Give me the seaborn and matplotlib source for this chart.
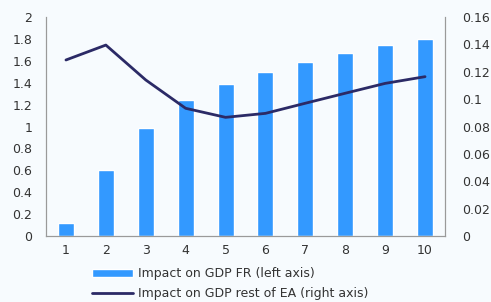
import matplotlib
matplotlib.use("Agg")
import matplotlib.pyplot as plt
import seaborn as sns
import pandas as pd

# ---------------- data ----------------
periods = [1, 2, 3, 4, 5, 6, 7, 8, 9, 10]
gdp_fr = [0.12, 0.60, 0.99, 1.24, 1.385, 1.50, 1.59, 1.67, 1.74, 1.80]
gdp_rest_ea = [0.1286, 0.1395, 0.114, 0.0933, 0.0867, 0.0896, 0.097, 0.1043, 0.1115, 0.1164]
left_ticks = [0, 0.2, 0.4, 0.6, 0.8, 1, 1.2, 1.4, 1.6, 1.8, 2]
left_labels = ["0", "0.2", "0.4", "0.6", "0.8", "1", "1.2", "1.4", "1.6", "1.8", "2"]
right_ticks = [0, 0.02, 0.04, 0.06, 0.08, 0.1, 0.12, 0.14, 0.16]
right_labels = ["0", "0.02", "0.04", "0.06", "0.08", "0.1", "0.12", "0.14", "0.16"]

df = pd.DataFrame({"period": periods, "fr": gdp_fr, "ea": gdp_rest_ea})

sns.set_style("white")
plt.rcParams["font.family"] = ["DejaVu Sans"]

bg = "#f7fbfe"
bar_col = "#3399ff"
line_col = "#2b2a66"
spine_col = "#9a9a9a"
txt_col = "#333333"

fig = plt.figure(figsize=(4.91, 3.02), dpi=100, facecolor=bg)
ax = fig.add_axes([0.0937, 0.2185, 0.8126, 0.7252])
ax.set_facecolor(bg)

# bars on the left axis
sns.barplot(data=df, x="period", y="fr", native_scale=True, width=0.4,
            color=bar_col, saturation=1, ax=ax, label="Impact on GDP FR (left axis)")
ax.set_xlim(0.5, 10.5)
ax.set_ylim(0, 2)
ax.set_yticks(left_ticks)
ax.set_yticklabels(left_labels)
ax.set_xticks(periods)
ax.set_xticklabels([str(p) for p in periods])
ax.set_xlabel("")
ax.set_ylabel("")

# line on the right axis
ax2 = ax.twinx()
sns.lineplot(data=df, x="period", y="ea", color=line_col, linewidth=2,
             ax=ax2, label="Impact on GDP rest of EA (right axis)")
ax2.set_ylim(0, 0.16)
ax2.set_yticks(right_ticks)
ax2.set_yticklabels(right_labels)
ax2.set_ylabel("")
ax2.set_xlim(0.5, 10.5)

for a in (ax, ax2):
    a.spines["top"].set_visible(False)
    for s in ["left", "right", "bottom"]:
        a.spines[s].set_color(spine_col)
        a.spines[s].set_linewidth(0.8)
    a.tick_params(length=0, labelsize=9, colors=txt_col)
ax.tick_params(axis="y", pad=10)
ax.tick_params(axis="x", pad=6)
ax2.tick_params(axis="y", pad=12)

# legend below the chart
h1, l1 = ax.get_legend_handles_labels()
h2, l2 = ax2.get_legend_handles_labels()
if ax2.get_legend():
    ax2.get_legend().remove()
if ax.get_legend():
    ax.get_legend().remove()
leg = fig.legend(h1 + h2, l1 + l2, loc="upper left", bbox_to_anchor=(0.175, 0.135),
                 frameon=False, fontsize=9, handlelength=3.3, handleheight=0.5,
                 labelspacing=0.55, borderpad=0, handletextpad=0.4)
for t in leg.get_texts():
    t.set_color(txt_col)

fig.savefig("out.png", dpi=100, facecolor=bg)
